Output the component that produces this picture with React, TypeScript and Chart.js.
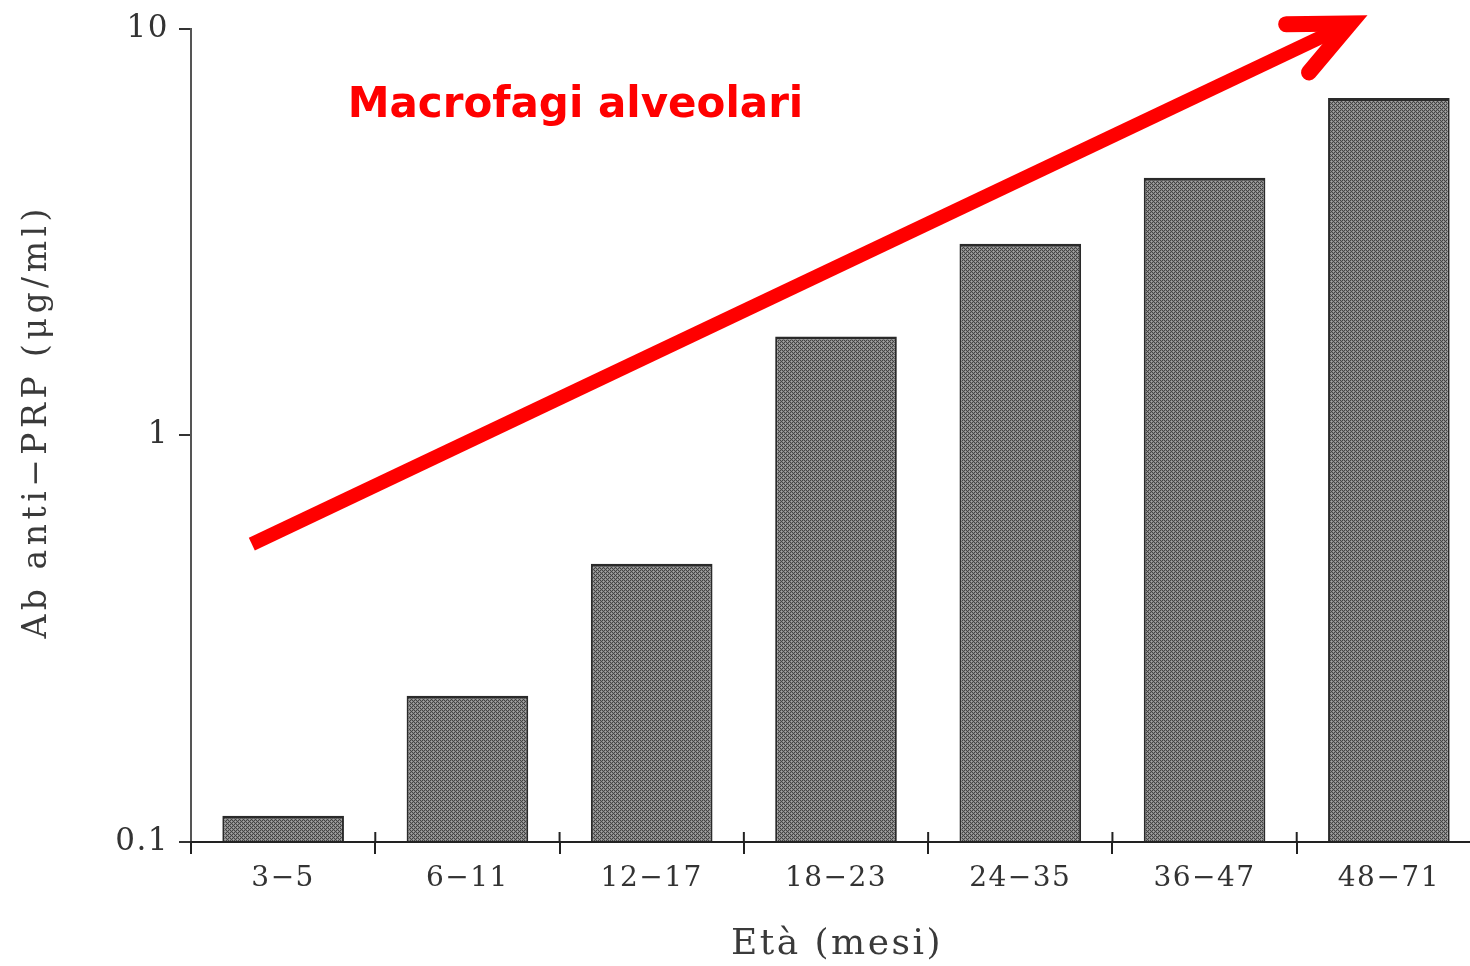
import React, { useEffect, useRef } from "react";
import { Chart, registerables } from "chart.js";

Chart.register(...registerables);

const CATEGORIES = ["3\u22125", "6\u221211", "12\u221217", "18\u221223", "24\u221235", "36\u221247", "48\u221271"];
const VALUES = [0.116, 0.229, 0.483, 1.75, 2.96, 4.3, 6.75];
const Y_TICKS = [0.1, 1, 10];
const Y_TICK_LABELS = ["0.1", "1", "10"];
const Y_TITLE = "Ab anti\u2212PRP (\u03bcg/ml)";
const X_TITLE = "Et\u00e0 (mesi)";
const OVERLAY_TITLE = "Macrofagi alveolari";
// arrow annotation in data space: [category index, value]
const ARROW_START = [-0.17, 0.54];
const ARROW_END = [5.79, 10.3];

const SERIF = "'DejaVu Serif', 'Liberation Serif', serif";

function makePattern(): CanvasPattern | string {
  const c = document.createElement("canvas");
  c.width = 4;
  c.height = 4;
  const g = c.getContext("2d");
  if (!g) return "#6a6a6a";
  for (let y = 0; y < 4; y++) {
    for (let x = 0; x < 4; x++) {
      const dark = (x + y) % 2 === 0;
      g.fillStyle = dark ? "#444444" : "#888888";
      if ((x === 1 && y === 3) || (x === 3 && y === 1)) g.fillStyle = "#a4a4a4";
      g.fillRect(x, y, 1, 1);
    }
  }
  return g.createPattern(c, "repeat") || "#6a6a6a";
}

const overlayPlugin = {
  id: "overlay",
  beforeDraw(chart: any) {
    chart.ctx.letterSpacing = "1.5px";
  },
  afterDraw(chart: any) {
    const { ctx, scales, chartArea } = chart;
    const xs = scales.x;
    const ys = scales.y;
    ctx.save();
    // extra upward parts of x-axis boundary ticks
    ctx.strokeStyle = "#222";
    ctx.lineWidth = 2;
    for (let i = 1; i < CATEGORIES.length; i++) {
      const px = xs.getPixelForValue(i - 0.5);
      ctx.beginPath();
      ctx.moveTo(px, chartArea.bottom - 10);
      ctx.lineTo(px, chartArea.bottom);
      ctx.stroke();
    }
    // axis titles
    ctx.fillStyle = "#3a3a3a";
    ctx.textBaseline = "middle";
    ctx.textAlign = "center";
    ctx.letterSpacing = "2.5px";
    ctx.font = "36px " + SERIF;
    ctx.fillText(X_TITLE, (chartArea.left + chartArea.right) / 2 + 1, 945);
    ctx.save();
    ctx.translate(37, (chartArea.top + chartArea.bottom) / 2 - 12);
    ctx.rotate(-Math.PI / 2);
    ctx.letterSpacing = "4.5px";
    ctx.font = "33px " + SERIF;
    ctx.fillText(Y_TITLE, 2, 0);
    ctx.restore();
    // overlay title text
    ctx.letterSpacing = "0px";
    ctx.fillStyle = "#ff0000";
    ctx.font = "bold 42px 'DejaVu Sans', Verdana, sans-serif";
    ctx.textAlign = "left";
    ctx.textBaseline = "middle";
    const tx = xs.getPixelForValue(0.35);
    const ty = ys.getPixelForValue(6.45);
    ctx.fillText(OVERLAY_TITLE, tx, ty);
    // arrow
    const x1 = xs.getPixelForValue(ARROW_START[0]);
    const y1 = ys.getPixelForValue(ARROW_START[1]);
    const x2 = xs.getPixelForValue(ARROW_END[0]);
    const y2 = ys.getPixelForValue(ARROW_END[1]);
    const ang = Math.atan2(y2 - y1, x2 - x1);
    ctx.strokeStyle = "#ff0000";
    ctx.lineWidth = 14;
    ctx.lineCap = "butt";
    ctx.beginPath();
    ctx.moveTo(x1, y1);
    ctx.lineTo(x2 - 12 * Math.cos(ang), y2 - 12 * Math.sin(ang));
    ctx.stroke();
    ctx.lineWidth = 16;
    ctx.lineCap = "round";
    ctx.lineJoin = "miter";
    const head = 64;
    const spread = 0.43;
    ctx.beginPath();
    ctx.moveTo(x2 - head * Math.cos(ang - spread), y2 - head * Math.sin(ang - spread));
    ctx.lineTo(x2, y2);
    ctx.lineTo(x2 - head * Math.cos(ang + spread), y2 - head * Math.sin(ang + spread));
    ctx.stroke();
    ctx.restore();
    ctx.letterSpacing = "0px";
  },
};

export default function App() {
  const ref = useRef<HTMLCanvasElement | null>(null);
  useEffect(() => {
    if (!ref.current) return;
    const pattern = makePattern();
    const chart = new Chart(ref.current, {
      type: "bar",
      data: {
        labels: CATEGORIES,
        datasets: [
          {
            data: VALUES,
            backgroundColor: pattern as any,
            borderColor: "#2a2a2a",
            borderWidth: { top: 3, left: 2, right: 2, bottom: 0 } as any,
            borderSkipped: false,
            categoryPercentage: 1,
            barPercentage: 0.66,
          },
        ],
      },
      options: {
        responsive: false,
        animation: false,
        layout: { padding: { top: 24, right: 9, left: 0, bottom: 0 } },
        plugins: {
          legend: { display: false },
          tooltip: { enabled: false },
        },
        scales: {
          x: {
            type: "category",
            grid: {
              display: true,
              offset: true,
              drawOnChartArea: false,
              drawTicks: true,
              tickLength: 12,
              color: "#222",
              lineWidth: 2,
            },
            border: { display: true, color: "#222", width: 2, z: 1 },
            ticks: {
              color: "#333",
              font: { family: SERIF, size: 28 },
              padding: 8,
              maxRotation: 0,
              autoSkip: false,
            },
            title: { display: false },
            afterFit(scale: any) {
              scale.height = 124;
            },
          },
          y: {
            type: "logarithmic",
            min: 0.1,
            max: 10,
            afterBuildTicks(scale: any) {
              scale.ticks = Y_TICKS.map((v) => ({ value: v }));
            },
            grid: {
              display: true,
              drawOnChartArea: false,
              drawTicks: true,
              tickLength: 12,
              color: "#333",
              lineWidth: 2,
            },
            border: { display: true, color: "#555", width: 2 },
            ticks: {
              color: "#333",
              font: { family: SERIF, size: 31 },
              padding: 10,
              callback: (v: any) => {
                const i = Y_TICKS.indexOf(Number(v));
                return i >= 0 ? Y_TICK_LABELS[i] : "";
              },
            },
            title: { display: false },
            afterFit(scale: any) {
              scale.width = 191;
            },
          },
        },
      },
      plugins: [overlayPlugin],
    });
    return () => chart.destroy();
  }, []);
  return (
    <div
      style={{
        position: "fixed",
        left: 0,
        top: 0,
        width: 1470,
        height: 966,
        overflow: "hidden",
        background: "#fff",
      }}
    >
      <canvas ref={ref} width={1490} height={966} style={{ width: 1490, height: 966, display: "block" }} />
    </div>
  );
}
